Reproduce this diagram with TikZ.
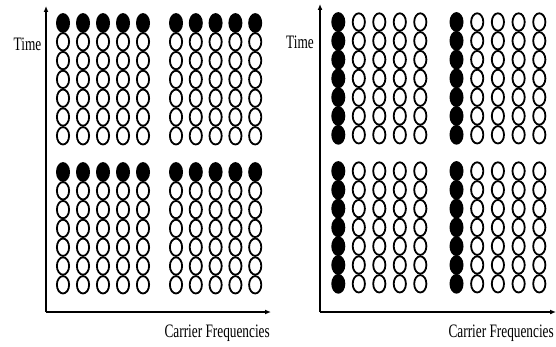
\documentclass[tikz,border=0pt]{standalone}
\usepackage{fontspec}
\setmainfont{Liberation Serif}
\usetikzlibrary{shapes.geometric,arrows.meta}
\tikzset{
  cell/.style={ellipse,inner sep=0pt},
  opencell/.style={cell,draw=black,line width=1.8pt,minimum width=12.2pt,minimum height=17.4pt},
  fullcell/.style={cell,fill=black,minimum width=14pt,minimum height=19.8pt},
  axis/.style={line width=1.4pt,-{Latex[length=6pt,width=5pt]}},
  lbl/.style={inner sep=0pt,font=\fontsize{19}{19}\selectfont}
}
\newcommand{\squeezed}[1]{\scalebox{0.7}[1]{#1}}
\begin{document}
\begin{tikzpicture}[x=1pt,y=-1pt]
\useasboundingbox (0,0) rectangle (556,347);

% ---- left panel: first symbol of every carrier is a pilot ----
\foreach \bx/\dx [count=\b] in {63/20,176/19.8}{
  \foreach \by [count=\v] in {23,172}{
    \foreach \c in {0,...,4}{
      \foreach \r in {0,...,6}{
        \pgfmathsetmacro{\xx}{\bx+\dx*\c}
        \pgfmathsetmacro{\yy}{\by+18.8*\r}
        \ifnum\r=0
          \node[fullcell] (L-\b-\v-\c-\r) at (\xx,\yy) {};
        \else
          \node[opencell] (L-\b-\v-\c-\r) at (\xx,\yy) {};
        \fi
      }
    }
  }
}
\coordinate (LO) at (46,312);
\coordinate (LT) at (46,6);
\coordinate (LR) at (271,312);
\draw[axis] (LO) -- (LT);
\draw[axis] (LO) -- (LR);
\node[lbl] (ltime) at (27.5,44) {\squeezed{Time}};
\node[lbl,anchor=base east] (lfreq) at (270,337.5) {\squeezed{Carrier Frequencies}};

% ---- right panel: first carrier carries pilots in every symbol ----
\foreach \bx/\dx [count=\b] in {338.3/20.5,456.5/20.7}{
  \foreach \by [count=\v] in {22,171}{
    \foreach \c in {0,...,4}{
      \foreach \r in {0,...,6}{
        \pgfmathsetmacro{\xx}{\bx+\dx*\c}
        \pgfmathsetmacro{\yy}{\by+18.8*\r}
        \ifnum\c=0
          \node[fullcell] (R-\b-\v-\c-\r) at (\xx,\yy) {};
        \else
          \node[opencell] (R-\b-\v-\c-\r) at (\xx,\yy) {};
        \fi
      }
    }
  }
}
\coordinate (RO) at (320,312);
\coordinate (RT) at (320,4);
\coordinate (RR) at (556,312);
\draw[axis] (RO) -- (RT);
\draw[axis] (RO) -- (RR);
\node[lbl] (rtime) at (300,42) {\squeezed{Time}};
\node[lbl,anchor=base east] (rfreq) at (554,337.5) {\squeezed{Carrier Frequencies}};
\end{tikzpicture}
\end{document}
